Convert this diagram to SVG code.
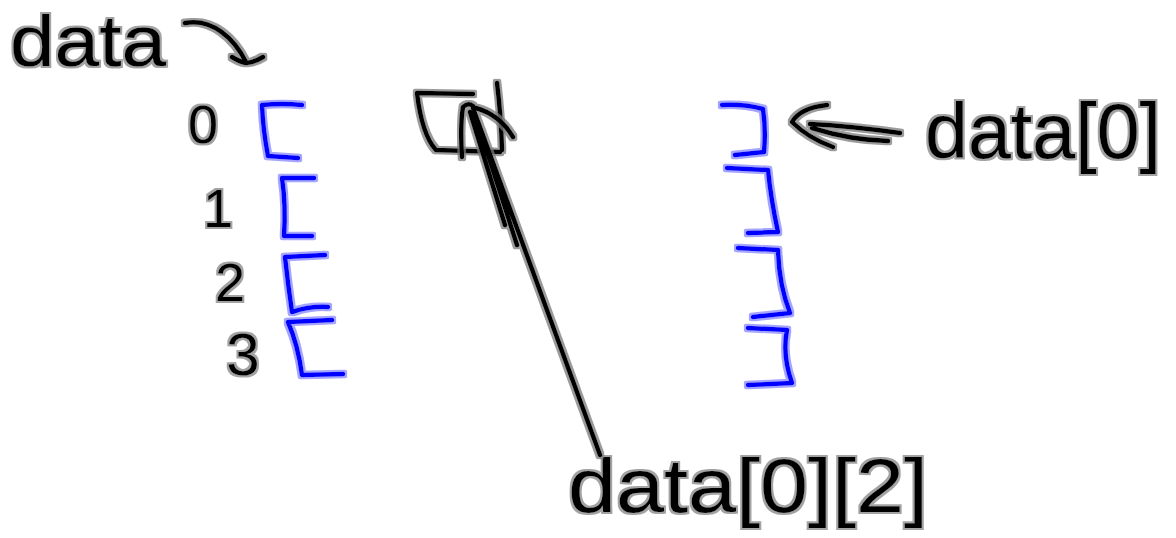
<svg xmlns="http://www.w3.org/2000/svg" width="1176" height="538" viewBox="0 0 1176 538">
  <defs>
    <filter id="halo" filterUnits="userSpaceOnUse" x="0" y="0" width="1176" height="538">
      <feMorphology in="SourceAlpha" operator="dilate" radius="2.2" result="d"/>
      <feFlood flood-color="#7a7a7a" flood-opacity="0.75"/>
      <feComposite in2="d" operator="in" result="h"/>
      <feMerge><feMergeNode in="h"/><feMergeNode in="SourceGraphic"/></feMerge>
    </filter>
    <filter id="thalo" filterUnits="userSpaceOnUse" x="0" y="0" width="1176" height="538">
      <feMorphology in="SourceAlpha" operator="dilate" radius="1.5" result="d"/>
      <feFlood flood-color="#7a7a7a" flood-opacity="0.7"/>
      <feComposite in2="d" operator="in" result="h"/>
      <feMerge><feMergeNode in="h"/><feMergeNode in="SourceGraphic"/></feMerge>
    </filter>
    <filter id="bhalo" filterUnits="userSpaceOnUse" x="0" y="0" width="1176" height="538">
      <feMorphology in="SourceAlpha" operator="dilate" radius="2.2" result="d"/>
      <feFlood flood-color="#7d7dff" flood-opacity="0.7"/>
      <feComposite in2="d" operator="in" result="h"/>
      <feMerge><feMergeNode in="h"/><feMergeNode in="SourceGraphic"/></feMerge>
    </filter>
  </defs>
  <style>
    .ink { fill: none; stroke: #000; stroke-width: 4.5; stroke-linecap: round; stroke-linejoin: round; filter: url(#halo); }
    .blue { fill: none; stroke: #0000ff; stroke-width: 4.5; stroke-linecap: round; stroke-linejoin: round; filter: url(#bhalo); }
    .hand { font-family: "Liberation Sans", "DejaVu Sans", sans-serif; font-weight: 300; fill: #000; filter: url(#thalo); }
  </style>
  <rect width="1176" height="538" fill="#fff"/>

  <g id="data-label">
    <text class="hand" x="10" y="66" font-size="72" textLength="156" lengthAdjust="spacingAndGlyphs">data</text>
  </g>

  <g id="indices">
    <text class="hand" x="203" y="143" font-size="54" text-anchor="middle">0</text>
    <text class="hand" x="218" y="227" font-size="54" text-anchor="middle">1</text>
    <text class="hand" x="230" y="301" font-size="54" text-anchor="middle">2</text>
    <text class="hand" x="243" y="375" font-size="60" text-anchor="middle">3</text>
  </g>

  <g id="row-0">
    <path class="blue" d="M262,105 Q282,103 302,105 M262,105 Q263,130 268,156 L298,158"/>
    <path class="blue" d="M722,105 Q745,104 763,109 Q766,130 764,152 L735,155"/>
  </g>
  <g id="row-1">
    <path class="blue" d="M282,178 L314,178 M282,178 Q286,205 284,236 L312,236"/>
    <path class="blue" d="M727,168 L768,170 Q771,200 778,232 L748,233"/>
  </g>
  <g id="row-2">
    <path class="blue" d="M285,257 L325,255 M285,257 Q288,285 292,312 Q310,306 328,307"/>
    <path class="blue" d="M738,248 L778,250 Q779,285 790,313 L753,317"/>
  </g>
  <g id="row-3">
    <path class="blue" d="M288,322 L332,320 M288,322 Q298,345 302,375 L343,374"/>
    <path class="blue" d="M748,328 L787,330 Q782,355 792,383 L748,385"/>
  </g>

  <g id="cell-box">
    <path class="ink" d="M473,94 L417,93 Q422,135 436,150 L500,152 M497,83 Q501,115 502,150"/>
  </g>

  <g id="label-data0">
    <text class="hand" x="925" y="158" font-size="78" textLength="236" lengthAdjust="spacingAndGlyphs">data[0]</text>
  </g>

  <g id="label-data02">
    <text class="hand" x="568" y="512" font-size="76" textLength="360" lengthAdjust="spacingAndGlyphs">data[0][2]</text>
  </g>

  <g id="connectors">
    <path class="ink" d="M185,23 C212,18 234,38 246,62 M232,57 Q240,62 246,63 Q255,62 263,57"/>
    <path class="ink" d="M900,133 Q850,126 810,124 M888,141 Q850,140 812,128 M827,105 Q800,108 792,122 Q808,138 833,147"/>
    <path class="ink" d="M600,455 L473,108 M473,108 L517,245 M470,112 L505,225 M462,157 Q460,125 463,107 Q468,102 473,106 M513,137 Q500,115 476,108"/>
  </g>
</svg>
